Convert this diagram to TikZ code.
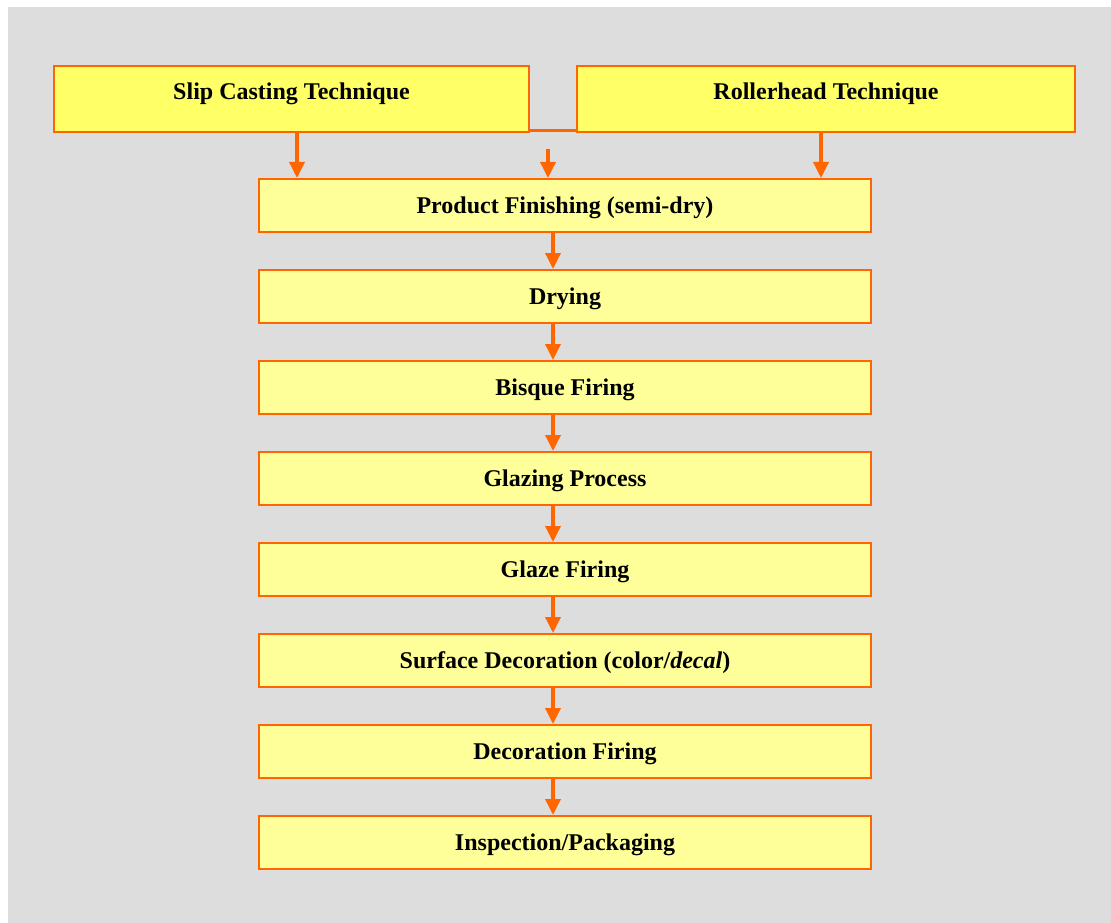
\documentclass[tikz,border=0pt]{standalone}
\usepackage{fontspec}
\setmainfont{Liberation Serif}
\usetikzlibrary{arrows.meta}
\definecolor{panelgray}{HTML}{DDDDDD}
\definecolor{edgeorange}{HTML}{FF6600}
\definecolor{techyellow}{HTML}{FFFF66}
\definecolor{stepyellow}{HTML}{FFFF99}
\begin{document}
\begin{tikzpicture}[x=1pt,y=-1pt,
  every node/.style={font=\fontsize{24}{28}\selectfont\bfseries},
  techbox/.style={draw=edgeorange,line width=2pt,fill=techyellow,
    minimum width=475pt,minimum height=66pt,inner sep=0pt},
  techtext/.style={inner sep=0pt,text height=18pt,text depth=2.5pt},
  stepbox/.style={draw=edgeorange,line width=2pt,fill=stepyellow,
    minimum width=612pt,minimum height=53pt,inner sep=0pt,
    text height=18pt,text depth=2.5pt},
  flow/.style={draw=edgeorange,line width=3.5pt,
    -{Triangle[width=15pt,length=16pt]}},
  joint/.style={draw=edgeorange,line width=3pt}]
% page and grey panel
\useasboundingbox[fill=white] (0,0) rectangle (1111,923);
\fill[panelgray] (8,7) rectangle (1111,923);

% the two forming techniques
\node[techbox] (slip) at (291.5,99) {};
\node[techbox,minimum width=498pt] (roll) at (826,99) {};
\node[techtext] (sliptext) at ([yshift=7]slip.center) {Slip Casting Technique};
\node[techtext] (rolltext) at ([yshift=7]roll.center) {Rollerhead Technique};
\draw[joint] ([yshift=2]slip.south east) -- ([yshift=2]roll.south west);

% process chain
\node[stepbox] (s1) at (565,205.5) {Product Finishing (semi-dry)};
\node[stepbox] (s2) at (565,296.5) {Drying};
\node[stepbox] (s3) at (565,387.5) {Bisque Firing};
\node[stepbox] (s4) at (565,478.5) {Glazing Process};
\node[stepbox] (s5) at (565,569.5) {Glaze Firing};
\node[stepbox] (s6) at (565,660.5) {Surface Decoration (color/\textit{decal})};
\node[stepbox] (s7) at (565,751.5) {Decoration Firing};
\node[stepbox] (s8) at (565,842.5) {Inspection/Packaging};

% feeds into the chain
\coordinate (midstart) at (548,149);
\draw[flow] (slip.south -| 297,0) -- (s1.north -| 297,0);
\draw[flow] (roll.south -| 821,0) -- (s1.north -| 821,0);
\draw[flow] (midstart) -- (s1.north -| midstart);

% links between steps
\foreach \a/\b in {s1/s2,s2/s3,s3/s4,s4/s5,s5/s6,s6/s7,s7/s8}
  \draw[flow] (\a.south -| 553,0) -- (\b.north -| 553,0);
\end{tikzpicture}
\end{document}
